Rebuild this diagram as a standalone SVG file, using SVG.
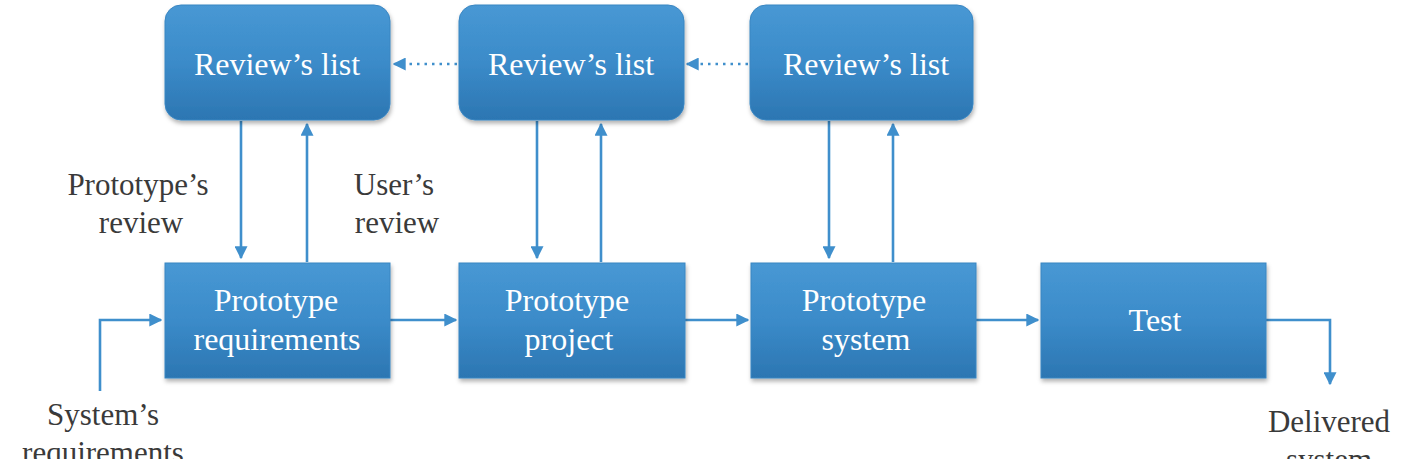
<svg xmlns="http://www.w3.org/2000/svg" width="1401" height="459" viewBox="0 0 1401 459">
<defs>
<linearGradient id="g" x1="0" y1="0" x2="0" y2="1">
<stop offset="0" stop-color="#4898d4"/>
<stop offset="0.5" stop-color="#3b8bc9"/>
<stop offset="1" stop-color="#2c76b2"/>
</linearGradient>
<filter id="sh" x="-10%" y="-10%" width="125%" height="130%">
<feDropShadow dx="1" dy="3" stdDeviation="2" flood-color="#000" flood-opacity="0.3"/>
</filter>
<marker id="ah" viewBox="0 0 10 10" refX="9" refY="5" markerWidth="5" markerHeight="5" orient="auto" markerUnits="strokeWidth">
<path d="M0,0 L10,5 L0,10 z" fill="#3f8fcc"/>
</marker>
<style>
.box{fill:url(#g);filter:url(#sh);stroke:#3a86c2;stroke-width:1}
.bt{font-family:"Liberation Serif",serif;font-size:32px;fill:#ffffff;text-anchor:middle}
.lb{font-family:"Liberation Serif",serif;font-size:31px;fill:#3a3a3a;text-anchor:middle}
.c{stroke:#3f8fcc;stroke-width:2.6;fill:none;marker-end:url(#ah)}
.d{stroke:#3f8fcc;stroke-width:2.6;fill:none;stroke-dasharray:2.5 5;marker-end:url(#ah)}
</style>
</defs>
<rect width="1401" height="459" fill="#ffffff"/>
<g id="connectors">
<path class="c" d="M241,121 V258"/>
<path class="c" d="M307,262 V124"/>
<path class="c" d="M537,121 V258"/>
<path class="c" d="M601,262 V124"/>
<path class="c" d="M829,121 V258"/>
<path class="c" d="M893,262 V124"/>
<path class="c" d="M390,320 H456"/>
<path class="c" d="M685,320 H748"/>
<path class="c" d="M976,320 H1038"/>
<path class="c" d="M1266,320 H1330 V384"/>
<path class="c" d="M100,391 V320 H161"/>
<path class="d" d="M457,64 H394"/>
<path class="d" d="M748,64 H687"/>
</g>
<g id="review1"><rect class="box" x="165" y="5" width="225" height="115" rx="16"/><text class="bt" x="277" y="75">Review’s list</text></g>
<g id="review2"><rect class="box" x="459" y="5" width="225" height="115" rx="16"/><text class="bt" x="571" y="75">Review’s list</text></g>
<g id="review3"><rect class="box" x="750" y="5" width="223" height="115" rx="16"/><text class="bt" x="866" y="75">Review’s list</text></g>
<g id="proto-req"><rect class="box" x="165" y="263" width="225" height="115"/><text class="bt" x="276" y="311">Prototype</text><text class="bt" x="277" y="350">requirements</text></g>
<g id="proto-proj"><rect class="box" x="459" y="263" width="226" height="115"/><text class="bt" x="567" y="311">Prototype</text><text class="bt" x="569" y="350">project</text></g>
<g id="proto-sys"><rect class="box" x="751" y="263" width="225" height="115"/><text class="bt" x="864" y="311">Prototype</text><text class="bt" x="866" y="350">system</text></g>
<g id="test"><rect class="box" x="1041" y="263" width="225" height="115"/><text class="bt" x="1155" y="331">Test</text></g>
<g id="labels">
<text class="lb" x="138" y="195">Prototype’s</text>
<text class="lb" x="141" y="233">review</text>
<text class="lb" x="394" y="195">User’s</text>
<text class="lb" x="397" y="233">review</text>
<text class="lb" x="103" y="425">System’s</text>
<text class="lb" x="103" y="463">requirements</text>
<text class="lb" x="1329" y="432">Delivered</text>
<text class="lb" x="1329" y="470">system</text>
</g>
</svg>
